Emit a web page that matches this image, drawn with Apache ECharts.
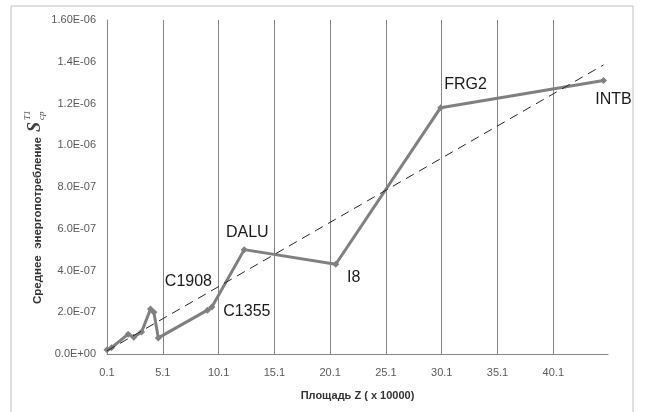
<!DOCTYPE html>
<html>
<head>
<meta charset="utf-8">
<script src="https://cdn.jsdelivr.net/npm/echarts@6/dist/echarts.min.js"></script>
<style>html,body{margin:0;padding:0;background:#fff}#c{width:647px;height:412px}</style>
</head>
<body>
<div id="c"></div>
<script>
// ---- data ----
var zValues = [0.1, 0.5, 2.0, 2.5, 3.2, 4.0, 4.3, 4.7, 9.1, 9.5, 12.4, 20.6, 30.0, 44.6];
var sValues = [2.0e-8, 3.0e-8, 9.5e-8, 8.0e-8, 1.05e-7, 2.15e-7, 2.0e-7, 7.7e-8, 2.1e-7, 2.25e-7, 5.0e-7, 4.3e-7, 1.18e-6, 1.31e-6];
var pointNames = ['', '', '', '', '', '', '', '', 'C1908', 'C1355', 'DALU', 'I8', 'FRG2', 'INTB'];
var trendZ = [0.1, 44.6];
var trendS = [1.5e-8, 1.385e-6];
var yTickLabels = ['0.0E+00', '2.0E-07', '4.0E-07', '6.0E-07', '8.0E-07', '1.0E-06', '1.2E-06', '1.4E-06', '1.60E-06'];
var xTitle = 'Площадь Z ( x 10000)';
var yTitle = 'Среднее  энергопотребление';

// label placement (style, not data)
var labelOffset = {
  'C1908': [-19, -29], 'C1355': [35, 5], 'DALU': [3, -17],
  'I8': [18, 13], 'FRG2': [25, -23], 'INTB': [10, 19]
};

var mainData = zValues.map(function (z, i) {
  var d = { value: [z, sValues[i]] };
  var n = pointNames[i];
  if (n) {
    d.label = { show: true, formatter: n, position: 'inside', offset: labelOffset[n],
      fontSize: 16, color: '#1a1a1a', fontFamily: 'Liberation Sans' };
  }
  return d;
});
var trendData = trendZ.map(function (z, i) { return [z, trendS[i]]; });

var chart = echarts.init(document.getElementById('c'));
chart.setOption({
  animation: false,
  backgroundColor: '#fff',
  grid: { left: 107, right: 39, top: 20, bottom: 58, containLabel: false },
  xAxis: {
    type: 'value', min: 0.1, max: 45, interval: 5,
    axisLine: { show: true, lineStyle: { color: '#868686', width: 1 } },
    axisTick: { show: false },
    splitLine: { show: true, showMaxLine: false, lineStyle: { color: '#868686', width: 1 } },
    axisLabel: { color: '#595959', fontSize: 11, fontFamily: 'Liberation Sans', margin: 13,
      showMaxLabel: false,
      formatter: function (v) { return (Math.round(v * 10) / 10).toFixed(1); } },
    name: xTitle, nameLocation: 'middle', nameGap: 36,
    nameTextStyle: { fontSize: 11, fontWeight: 'bold', color: '#333333', fontFamily: 'Liberation Sans' }
  },
  yAxis: {
    type: 'value', min: 0, max: 1.6e-6, interval: 2e-7,
    axisLine: { show: true, lineStyle: { color: '#868686', width: 1 } },
    axisTick: { show: false },
    splitLine: { show: false },
    axisLabel: { color: '#595959', fontSize: 11, fontFamily: 'Liberation Sans', margin: 11,
      formatter: function (v) { return yTickLabels[Math.round(v / 2e-7)]; } }
  },
  series: [
    {
      type: 'line', data: trendData, symbol: 'none', silent: true, z: 3,
      lineStyle: { color: '#262626', width: 1, type: [9, 6] }
    },
    {
      type: 'line', data: mainData, symbol: 'diamond', symbolSize: 7, z: 2,
      itemStyle: { color: '#808080' },
      lineStyle: { color: '#808080', width: 3 }
    }
  ],
  graphic: [
    { type: 'rect', shape: { x: 11, y: 6, width: 622, height: 430 }, silent: true,
      style: { fill: 'none', stroke: '#c0c0c0', lineWidth: 1 } },
    { type: 'group', x: 38, y: 304, rotation: Math.PI / 2, children: [
      { type: 'text', x: 0, y: 0, style: { text: yTitle, fontSize: 11.5, fontWeight: 'bold',
          fontFamily: 'Liberation Sans', fill: '#333333', verticalAlign: 'middle', align: 'left' } },
      { type: 'text', x: 172, y: -3, style: { text: 'S', fontSize: 18, fontStyle: 'italic', fontWeight: 'bold',
          fontFamily: 'Liberation Serif', fill: '#404040', verticalAlign: 'middle', align: 'left' } },
      { type: 'text', x: 184, y: -10, style: { text: 'T1', fontSize: 9, fontStyle: 'italic',
          fontFamily: 'Liberation Serif', fill: '#404040', verticalAlign: 'middle', align: 'left' } },
      { type: 'text', x: 184, y: 4, style: { text: 'ср', fontSize: 9, fontStyle: 'italic',
          fontFamily: 'Liberation Serif', fill: '#404040', verticalAlign: 'middle', align: 'left' } }
    ] }
  ]
});
</script>
</body>
</html>
